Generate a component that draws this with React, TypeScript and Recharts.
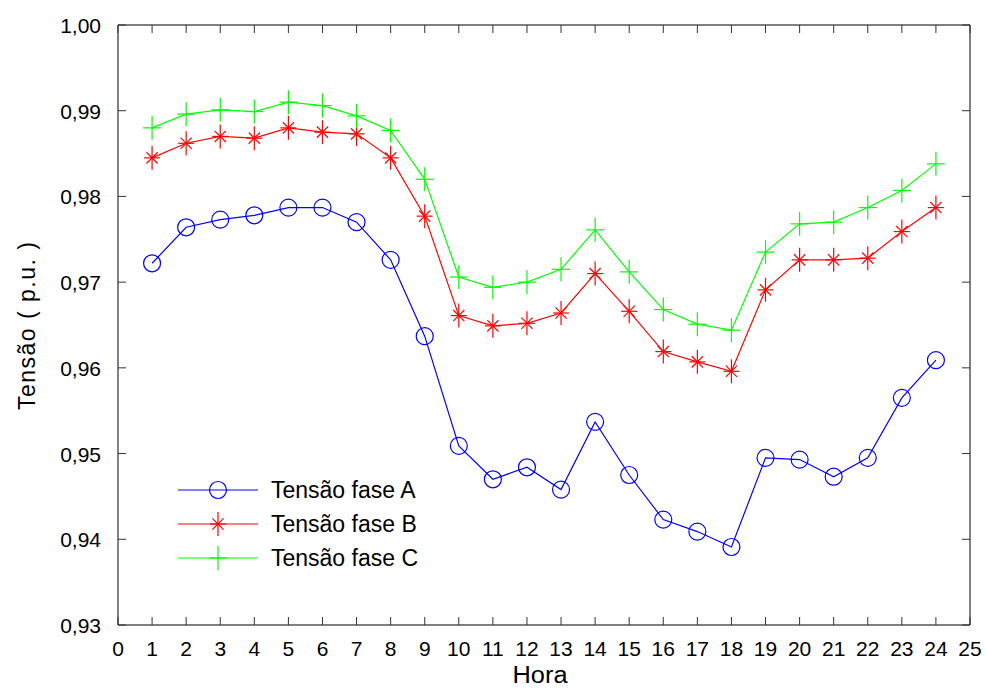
import React from "react";
import { LineChart, Line, XAxis, YAxis, ReferenceLine } from "recharts";

const horas = [1, 2, 3, 4, 5, 6, 7, 8, 9, 10, 11, 12, 13, 14, 15, 16, 17, 18, 19, 20, 21, 22, 23, 24];
const faseA = [0.9722, 0.9764, 0.9773, 0.9778, 0.9787, 0.9787, 0.977, 0.9726, 0.9637, 0.9509, 0.947, 0.9484, 0.9458, 0.9537, 0.9475, 0.9423, 0.9409, 0.9391, 0.9495, 0.9493, 0.9473, 0.9495, 0.9565, 0.9609];
const faseB = [0.9845, 0.9862, 0.987, 0.9868, 0.988, 0.9875, 0.9873, 0.9845, 0.9777, 0.9661, 0.9649, 0.9652, 0.9664, 0.971, 0.9666, 0.9619, 0.9607, 0.9596, 0.9691, 0.9726, 0.9726, 0.9728, 0.9759, 0.9787];
const faseC = [0.988, 0.9896, 0.9901, 0.9899, 0.991, 0.9906, 0.9894, 0.9877, 0.982, 0.9706, 0.9694, 0.97, 0.9715, 0.9761, 0.9712, 0.9668, 0.9651, 0.9644, 0.9735, 0.9768, 0.977, 0.9787, 0.9807, 0.9838];
const xTicks = [0, 1, 2, 3, 4, 5, 6, 7, 8, 9, 10, 11, 12, 13, 14, 15, 16, 17, 18, 19, 20, 21, 22, 23, 24, 25];
const yTicks = [0.93, 0.94, 0.95, 0.96, 0.97, 0.98, 0.99, 1.0];

const data = horas.map((h, i) => ({ hora: h, a: faseA[i], b: faseB[i], c: faseC[i] }));

const W = 986;
const H = 689;
const PL = 118;
const PR = 970;
const PT = 25;
const PB = 625;
const FONT = "'Liberation Sans', Arial, sans-serif";

const Circle = ({ cx, cy, color }: any) => (
  <circle cx={cx} cy={cy} r={8.5} fill="none" stroke={color} strokeWidth={1.2} />
);

const Star = ({ cx, cy, color }: any) => {
  const s = 8;
  const d = s * 0.7;
  return (
    <g stroke={color} strokeWidth={1.2}>
      <line x1={cx - s} y1={cy} x2={cx + s} y2={cy} />
      <line x1={cx} y1={cy - s - 4} x2={cx} y2={cy + s + 4} />
      <line x1={cx - d} y1={cy - d} x2={cx + d} y2={cy + d} />
      <line x1={cx - d} y1={cy + d} x2={cx + d} y2={cy - d} />
    </g>
  );
};

const Plus = ({ cx, cy, color }: any) => {
  const s = 9;
  return (
    <g stroke={color} strokeWidth={1.2}>
      <line x1={cx - s} y1={cy} x2={cx + s} y2={cy} />
      <line x1={cx} y1={cy - s - 3} x2={cx} y2={cy + s + 3} />
    </g>
  );
};

const XTick = (props: any) => {
  const { x, payload } = props;
  return (
    <g>
      <line x1={x} y1={PB} x2={x} y2={PB - 8} stroke="#333" />
      <line x1={x} y1={PT} x2={x} y2={PT + 8} stroke="#333" />
      <text x={x} y={PB + 31} textAnchor="middle" fontSize={21} fontFamily={FONT} fill="#000">
        {payload.value}
      </text>
    </g>
  );
};

const YTick = (props: any) => {
  const { y, payload } = props;
  return (
    <g>
      <line x1={PL} y1={y} x2={PL + 8} y2={y} stroke="#333" />
      <line x1={PR} y1={y} x2={PR - 8} y2={y} stroke="#333" />
      <text x={101} y={y + 8} textAnchor="end" fontSize={21} fontFamily={FONT} fill="#000">
        {payload.value.toFixed(2).replace(".", ",")}
      </text>
    </g>
  );
};

const XLabel = () => (
  <text x={540} y={683} textAnchor="middle" fontSize={23} textLength={55} lengthAdjust="spacingAndGlyphs" fontFamily={FONT} fill="#000">
    Hora
  </text>
);

const YLabel = () => (
  <text x={35} y={326} transform="rotate(-90 35 326)" textAnchor="middle" fontSize={23} textLength={168} lengthAdjust="spacing" fontFamily={FONT} fill="#000">
    Tensão ( p.u. )
  </text>
);

const series = [
  { key: "a", name: "Tensão fase A", color: "#0000ff", M: Circle },
  { key: "b", name: "Tensão fase B", color: "#ff0000", M: Star },
  { key: "c", name: "Tensão fase C", color: "#00ff00", M: Plus },
];

const LegendBox = () => (
  <svg width={300} height={100}>
    {series.map((s, i) => {
      const y = 15 + i * 34;
      const M = s.M;
      return (
        <g key={s.key}>
          <line x1={8} y1={y} x2={88} y2={y} stroke={s.color} strokeWidth={1.2} />
          <M cx={48} cy={y} color={s.color} />
          <text x={101} y={y + 8} fontSize={23} fontFamily={FONT} fill="#000">
            {s.name}
          </text>
        </g>
      );
    })}
  </svg>
);

export default function App() {
  return (
    <div style={{ position: "absolute", left: 0, top: 0, width: W, height: H, background: "#fff" }}>
      <LineChart width={W} height={H} data={data} margin={{ top: PT, right: W - PR, bottom: 0, left: 0 }}>
        <XAxis
          dataKey="hora"
          type="number"
          domain={[0, 25]}
          ticks={xTicks}
          interval={0}
          height={H - PB}
          tick={<XTick />}
          tickLine={false}
          axisLine={{ stroke: "#000" }}
          label={<XLabel />}
        />
        <YAxis
          type="number"
          domain={[0.93, 1.0]}
          ticks={yTicks}
          interval={0}
          width={PL}
          tick={<YTick />}
          tickLine={false}
          axisLine={{ stroke: "#000" }}
          label={<YLabel />}
        />
        <ReferenceLine y={1.0} stroke="#000" />
        <ReferenceLine x={25} stroke="#000" />
        {series.map((s) => {
          const M = s.M;
          return (
            <Line
              key={s.key}
              dataKey={s.key}
              name={s.name}
              stroke={s.color}
              strokeWidth={1.2}
              isAnimationActive={false}
              dot={(p: any) => <M key={`${s.key}-${p.index}`} cx={p.cx} cy={p.cy} color={s.color} />}
              activeDot={false}
            />
          );
        })}
      </LineChart>
      <div style={{ position: "absolute", left: 170, top: 475, width: 300, height: 100 }}>
        <LegendBox />
      </div>
    </div>
  );
}
